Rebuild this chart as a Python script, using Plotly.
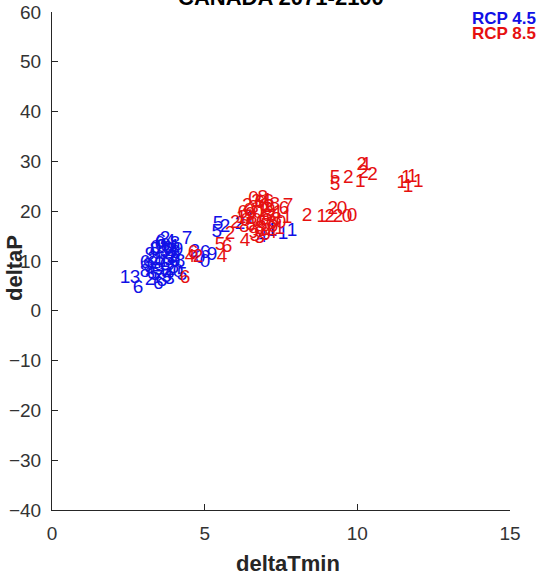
import plotly.graph_objects as go

# RCP 4.5 (blue) : deltaTmin, deltaP, label
rcp45_x = [2.39, 2.72, 2.82, 3.05, 3.21, 3.37, 3.21, 3.37, 3.54, 3.70, 3.87, 4.03, 4.42,
           3.54, 3.70, 3.87, 4.03, 3.70, 3.93, 4.13, 4.19, 3.80, 3.47, 3.21, 3.05, 4.13,
           4.26, 3.60, 3.95, 3.45, 3.30, 3.62, 3.78, 3.92, 4.05, 3.50, 3.66, 3.84, 3.99,
           3.40, 3.56, 3.72, 3.88, 4.02, 3.15, 3.28, 3.74, 3.60, 3.85, 3.48,
           4.68, 4.85, 5.01, 5.24, 5.01, 5.44, 5.40, 5.67, 6.49,
           6.16, 7.21, 7.57, 7.86, 6.88]
rcp45_y = [6.6, 6.6, 4.6, 7.8, 8.6, 7.2, 11.2, 12.2, 13.3, 14.3, 13.7, 12.7, 14.3,
           10.2, 9.2, 8.2, 9.8, 11.8, 11.0, 12.2, 9.8, 7.2, 6.6, 6.2, 9.6, 7.8,
           7.2, 12.8, 10.5, 9.5, 10.4, 11.4, 12.4, 10.8, 11.6, 8.2, 9.8, 10.2, 8.6,
           12.6, 13.8, 12.9, 11.9, 13.4, 8.9, 7.4, 6.8, 5.9, 6.4, 5.3,
           11.8, 10.6, 11.6, 11.2, 9.8, 17.3, 15.7, 16.7, 18.3,
           17.3, 15.9, 15.3, 15.9, 14.7]
rcp45_lab = ["1", "3", "6", "8", "3", "5", "9", "8", "0", "2", "4", "1", "7",
             "5", "6", "2", "0", "3", "1", "9", "8", "4", "7", "2", "6", "0",
             "5", "9", "3", "4", "8", "0", "6", "2", "3", "9", "1", "5", "8",
             "0", "6", "9", "3", "8", "9", "6", "5", "8", "3", "6",
             "2", "0", "6", "9", "0", "5", "5", "2", "1",
             "2", "1", "1", "1", "4"]

# RCP 8.5 (red)
rcp85_x = [4.36, 4.52, 4.62, 4.78, 5.57, 5.73, 5.50, 6.32, 5.83,
           6.0, 6.2, 6.3, 6.5, 6.6, 6.7, 6.8, 6.9, 7.0, 7.0, 7.1, 7.2, 7.3, 6.9,
           7.4, 6.6, 7.5, 6.4, 7.2, 6.8, 7.6, 7.7, 6.5, 6.65, 7.73,
           6.55, 6.75, 6.95, 7.15, 7.35, 6.45, 6.70, 6.85, 7.05, 7.25, 6.60, 6.90,
           7.10, 6.35, 6.80, 7.00, 7.45, 6.25, 6.95, 7.20,
           8.35, 8.84, 9.10, 9.20, 9.50, 9.37, 9.66, 9.83,
           9.27, 9.27, 9.70, 10.10, 10.20, 10.50, 10.15, 10.30,
           11.46, 11.60, 11.80, 12.00, 11.66]
rcp85_y = [6.6, 10.8, 11.6, 10.8, 10.8, 12.7, 13.1, 13.9, 15.3,
           17.5, 18.5, 16.8, 19.2, 20.5, 18.0, 21.5, 19.8, 22.0, 17.0, 20.8, 18.8, 21.2, 16.0,
           19.5, 15.5, 17.5, 21.0, 15.5, 14.5, 20.3, 18.5, 17.2, 14.9, 20.9,
           18.4, 19.6, 20.9, 19.9, 18.1, 19.9, 21.8, 17.6, 18.9, 16.7, 22.4, 22.6,
           21.7, 17.9, 16.4, 15.2, 16.3, 19.6, 18.2, 17.4,
           18.9, 18.7, 18.7, 20.3, 20.3, 18.7, 18.7, 18.9,
           26.7, 25.3, 26.7, 25.9, 27.7, 27.3, 29.3, 29.3,
           25.7, 26.7, 26.9, 25.9, 24.9]
rcp85_lab = ["6", "4", "6", "2", "4", "6", "5", "4", "2",
             "2", "1", "8", "9", "3", "0", "6", "1", "4", "5", "2", "7", "8", "3",
             "1", "9", "0", "2", "4", "3", "6", "1", "5", "3", "7",
             "8", "0", "6", "9", "8", "0", "3", "6", "8", "9", "0", "8",
             "6", "0", "8", "9", "1", "6", "0", "8",
             "2", "1", "2", "2", "0", "2", "0", "0",
             "5", "5", "2", "1", "2", "2", "2", "1",
             "1", "1", "1", "1", "1"]

FONT = "Liberation Sans, Arial, sans-serif"

fig = go.Figure()
fig.add_trace(go.Scatter(x=rcp45_x, y=rcp45_y, mode="text", text=rcp45_lab,
                         textposition="middle center",
                         textfont=dict(family=FONT, size=19, color="#1010e6"),
                         showlegend=False, hoverinfo="skip"))
fig.add_trace(go.Scatter(x=rcp85_x, y=rcp85_y, mode="text", text=rcp85_lab,
                         textposition="middle center",
                         textfont=dict(family=FONT, size=19, color="#e61010"),
                         showlegend=False, hoverinfo="skip"))

axis_common = dict(showline=True, linecolor="#262626", linewidth=1, ticks="inside",
                   ticklen=6, tickcolor="#262626", showgrid=False, zeroline=False,
                   automargin=False,
                   tickfont=dict(family=FONT, size=19, color="#333333"))

fig.update_xaxes(range=[0, 15], tickvals=[0, 5, 10, 15], ticklabelstandoff=6, **axis_common)
fig.update_yaxes(range=[-40, 60], tickvals=list(range(-40, 61, 10)), ticklabelstandoff=6,
                 **axis_common)

fig.update_layout(
    width=541, height=580,
    margin=dict(l=52, r=31, t=12, b=70),
    paper_bgcolor="white", plot_bgcolor="white",
    annotations=[
        dict(text="<b>CANADA 2071-2100</b>", x=0.5, y=1.030, xref="paper", yref="paper",
             xanchor="center", yanchor="middle", showarrow=False,
             font=dict(family=FONT, size=22, color="#000000")),
        dict(text="<b>RCP 4.5</b>", x=1.061, y=0.986, xref="paper", yref="paper",
             xanchor="right", yanchor="middle", showarrow=False,
             font=dict(family=FONT, size=17, color="#1010e6")),
        dict(text="<b>RCP 8.5</b>", x=1.061, y=0.956, xref="paper", yref="paper",
             xanchor="right", yanchor="middle", showarrow=False,
             font=dict(family=FONT, size=17, color="#e61010")),
        dict(text="<b>deltaTmin</b>", x=(288 - 52) / 458, y=(510 - 563) / 498,
             xref="paper", yref="paper", xanchor="center", yanchor="middle", showarrow=False,
             font=dict(family=FONT, size=22, color="#262626")),
        dict(text="<b>deltaP</b>", x=(14 - 52) / 458, y=(510 - 268) / 498,
             xref="paper", yref="paper", xanchor="center", yanchor="middle", showarrow=False,
             textangle=-90, font=dict(family=FONT, size=22, color="#262626")),
    ],
)

fig.write_html("out.html")
